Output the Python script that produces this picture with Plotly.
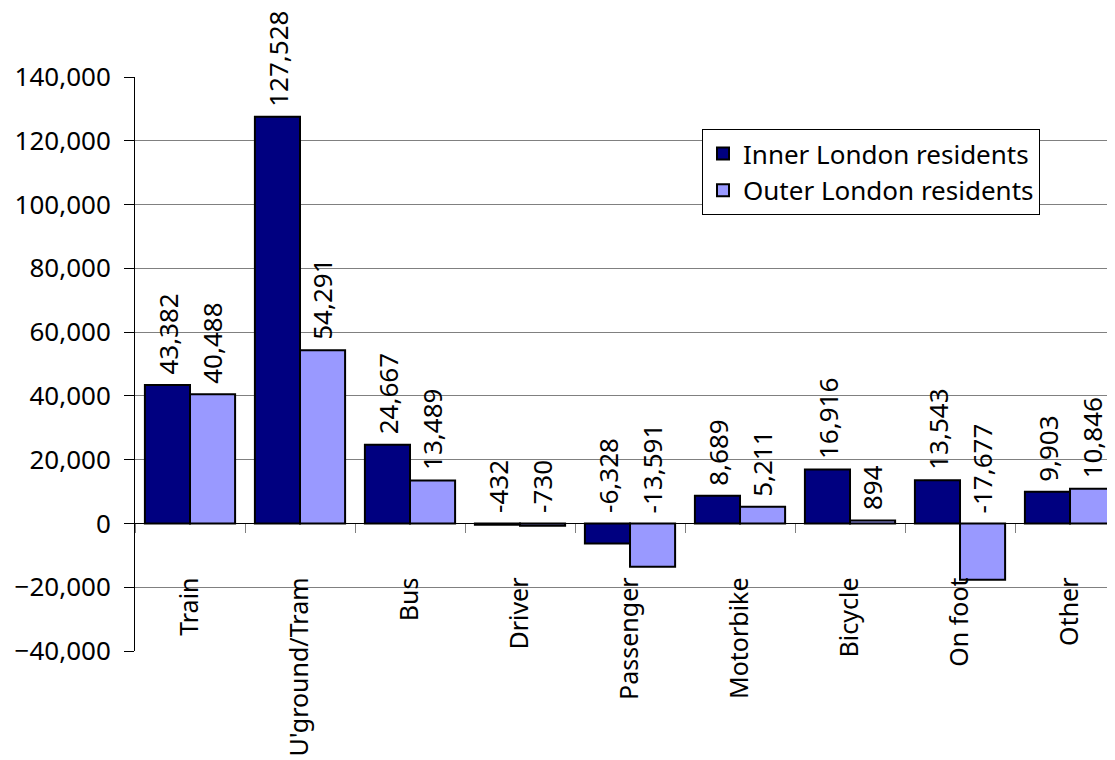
import plotly.graph_objects as go

categories = ["Train", "U'ground/Tram", "Bus", "Driver", "Passenger",
              "Motorbike", "Bicycle", "On foot", "Other"]
inner = [43382, 127528, 24667, -432, -6328, 8689, 16916, 13543, 9903]
outer = [40488, 54291, 13489, -730, -13591, 5211, 894, -17677, 10846]
series_names = ["Inner London residents", "Outer London residents"]
colors = ["#000080", "#9999FF"]

FONT = "Noto Sans"
FS = 26

fig = go.Figure()
for name, vals, col in zip(series_names, [inner, outer], colors):
    fig.add_trace(go.Bar(
        x=categories, y=vals, name=name,
        marker=dict(color=col, line=dict(color="black", width=2)),
    ))

# data labels (rotated), placed above max(value, 0)
for vals, shift in [(inner, -22), (outer, 22)]:
    for c, v in zip(categories, vals):
        fig.add_annotation(
            x=c, y=max(v, 0), xref="x", yref="y",
            text=f"{v:,}", textangle=-90, showarrow=False,
            xanchor="center", yanchor="bottom", xshift=shift, yshift=8,
            font=dict(family=FONT, size=FS, color="black"),
        )

fig.update_layout(
    width=1107, height=752,
    margin=dict(l=127, r=0, t=69, b=109, autoexpand=False),
    plot_bgcolor="white", paper_bgcolor="white",
    barmode="group", bargap=0.18, bargroupgap=0,
    font=dict(family=FONT, size=FS, color="black"),
    showlegend=True,
    legend=dict(
        x=(702 - 135) / 980, y=(651 - 129) / 574, xanchor="left", yanchor="top",
        bgcolor="white", bordercolor="black", borderwidth=1,
        font=dict(family=FONT, size=FS, color="black"),
        itemsizing="constant", tracegroupgap=0,
    ),
)

fig.update_yaxes(
    range=[-40000, 140000], dtick=20000, tickformat=",",
    showgrid=True, gridcolor="#808080", gridwidth=1,
    zeroline=True, zerolinecolor="black", zerolinewidth=1,
    showline=True, linecolor="black", linewidth=1,
    ticks="outside", ticklen=10, tickcolor="black",
    ticklabelstandoff=8, automargin=False,
)
fig.update_xaxes(
    type="category", range=[-0.5, 8.409],
    anchor="free", position=40000 / 180000,
    showline=False, showgrid=False, zeroline=False,
    tickson="boundaries", ticks="outside", ticklen=9, tickcolor="#808080",
    tickangle=-90, ticklabelstandoff=48, automargin=False,
    tickfont=dict(family=FONT, size=25, color="black"),
)

fig.write_html("out.html")
